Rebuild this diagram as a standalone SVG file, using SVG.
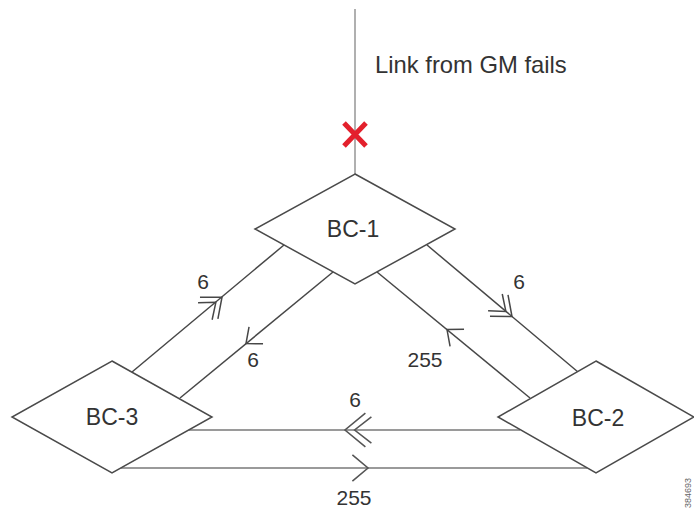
<svg xmlns="http://www.w3.org/2000/svg" xmlns:xlink="http://www.w3.org/1999/xlink" width="694" height="510" viewBox="0 0 694 510">
  <style>
    .node { fill: #ffffff; stroke: #4a4a4a; stroke-width: 1.5; }
    .lbl { font-family: "Liberation Sans", Arial, sans-serif; font-size: 23px; fill: #333; text-anchor: middle; }
    .num { font-family: "Liberation Sans", Arial, sans-serif; font-size: 21px; fill: #333; text-anchor: middle; }
    .diag { stroke: #474747; stroke-width: 1.5; fill: none; }
    .horz { stroke: #9a9a9a; stroke-width: 2.2; fill: none; }
    .vert { stroke: #b0b0b0; stroke-width: 2; fill: none; }
    .chev { stroke: #474747; stroke-width: 1.5; fill: none; }
  </style>
  <defs>
    <path id="c1" d="M-13,-11 L0,0 L-13,11"/>
    <g id="c2">
      <path d="M-17,-14 L0,0 L-17,14"/>
      <path d="M-22,-11 L-8,0 L-22,11"/>
    </g>
  </defs>
  <rect width="694" height="510" fill="#ffffff"/>

  <g id="connectors">
    <line class="vert" x1="355" y1="9" x2="355" y2="174"/>
    <line class="diag" x1="132" y1="372" x2="284" y2="245"/>
    <line class="diag" x1="180" y1="398" x2="333" y2="272"/>
    <line class="diag" x1="427" y1="245" x2="578" y2="372"/>
    <line class="diag" x1="377" y1="272" x2="530" y2="398"/>
    <line class="horz" x1="189" y1="430" x2="520" y2="430"/>
    <line class="horz" x1="121" y1="468" x2="587" y2="468"/>
    <g class="chev">
      <use xlink:href="#c2" transform="translate(222,297.2) rotate(-39.8)"/>
      <use xlink:href="#c1" transform="translate(246,343.6) rotate(140.5)"/>
      <use xlink:href="#c2" transform="translate(512,316.6) rotate(40.1)"/>
      <use xlink:href="#c1" transform="translate(447,329.6) rotate(-140.6)"/>
      <use xlink:href="#c2" transform="translate(345,430) rotate(180) scale(1.2)" style="stroke:#555;stroke-width:1.3"/>
      <use xlink:href="#c1" transform="translate(368,468) scale(1.2)" style="stroke:#555;stroke-width:1.3"/>
    </g>
    <text class="num" x="203" y="289">6</text>
    <text class="num" x="253" y="367">6</text>
    <text class="num" x="519" y="289">6</text>
    <text class="num" x="425" y="367">255</text>
    <text class="num" x="355" y="407">6</text>
    <text class="num" x="354" y="505">255</text>
  </g>

  <g id="failure">
    <path d="M344,123 L366,146 M366,123 L344,146" stroke="#e3202c" stroke-width="5" fill="none"/>
    <text x="375" y="73" style="font-family:'Liberation Sans',Arial,sans-serif;font-size:23.8px;fill:#333">Link from GM fails</text>
  </g>

  <g id="BC-1">
    <polygon class="node" points="355,174 455,229 355,284 255,229"/>
    <text class="lbl" x="353" y="237">BC-1</text>
  </g>
  <g id="BC-3">
    <polygon class="node" points="112,361 212,417 112,473 12,417"/>
    <text class="lbl" x="112" y="425">BC-3</text>
  </g>
  <g id="BC-2">
    <polygon class="node" points="596,361 694,417 596,473 498,417"/>
    <text class="lbl" x="598" y="426">BC-2</text>
  </g>

  <text x="0" y="0" transform="translate(691,508) rotate(-90)" style="font-family:'Liberation Sans',Arial,sans-serif;font-size:9px;fill:#666">384693</text>
</svg>
